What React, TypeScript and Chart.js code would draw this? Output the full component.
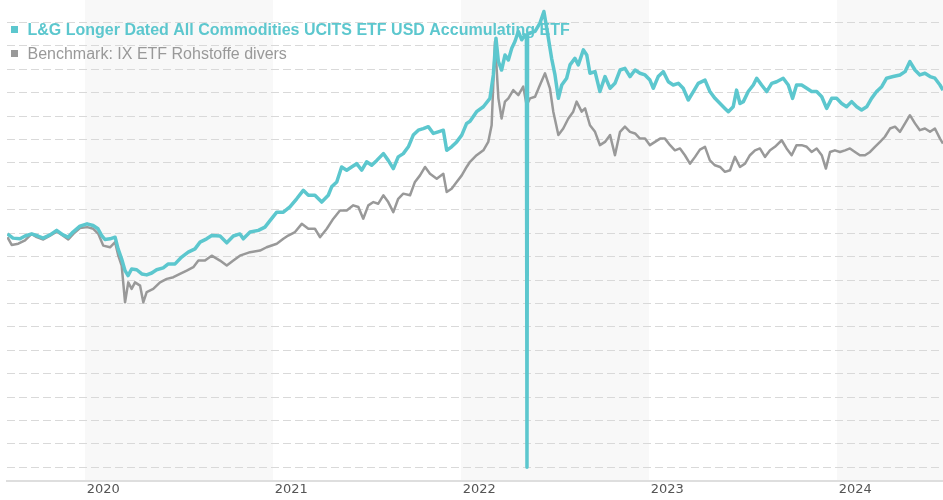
import React, { useEffect, useRef } from 'react';
import { Chart, registerables } from 'chart.js';

Chart.register(...registerables);

// ETF series (x in decimal years, y indexed value)
const etfYears = [
  2019.587, 2019.617, 2019.654, 2019.681, 2019.716, 2019.750, 2019.777, 2019.814, 2019.849, 2019.883,
  2019.910, 2019.936, 2019.973, 2020.011, 2020.043, 2020.069, 2020.089, 2020.106, 2020.133, 2020.160,
  2020.176, 2020.195, 2020.213, 2020.229, 2020.248, 2020.275, 2020.302, 2020.328, 2020.355, 2020.381,
  2020.416, 2020.443, 2020.479, 2020.514, 2020.549, 2020.585, 2020.612, 2020.647, 2020.674, 2020.718,
  2020.754, 2020.789, 2020.824, 2020.842, 2020.878, 2020.922, 2020.957, 2020.984, 2021.020, 2021.055,
  2021.090, 2021.126, 2021.161, 2021.188, 2021.223, 2021.259, 2021.294, 2021.312, 2021.339, 2021.365,
  2021.392, 2021.418, 2021.445, 2021.472, 2021.498, 2021.525, 2021.552, 2021.587, 2021.613, 2021.640,
  2021.666, 2021.693, 2021.720, 2021.746, 2021.773, 2021.799, 2021.826, 2021.853, 2021.879, 2021.906,
  2021.924, 2021.950, 2021.977, 2022.004, 2022.030, 2022.048, 2022.083, 2022.119, 2022.154, 2022.172,
  2022.186, 2022.199, 2022.216, 2022.234, 2022.252, 2022.270, 2022.287, 2022.305, 2022.323, 2022.340,
  2022.348, 2022.351, 2022.354, 2022.363, 2022.394, 2022.420, 2022.441, 2022.459, 2022.482, 2022.500,
  2022.518, 2022.536, 2022.562, 2022.580, 2022.606, 2022.624, 2022.651, 2022.669, 2022.686, 2022.713,
  2022.739, 2022.766, 2022.793, 2022.819, 2022.846, 2022.872, 2022.899, 2022.926, 2022.952, 2022.979,
  2023.005, 2023.023, 2023.049, 2023.076, 2023.103, 2023.129, 2023.156, 2023.182, 2023.209, 2023.236,
  2023.262, 2023.298, 2023.324, 2023.351, 2023.378, 2023.404, 2023.422, 2023.448, 2023.466, 2023.484,
  2023.502, 2023.528, 2023.555, 2023.573, 2023.599, 2023.626, 2023.653, 2023.679, 2023.714, 2023.741,
  2023.764, 2023.785, 2023.812, 2023.839, 2023.865, 2023.892, 2023.919, 2023.945, 2023.972, 2023.998,
  2024.025, 2024.051, 2024.078, 2024.105, 2024.131, 2024.158, 2024.184, 2024.211, 2024.238, 2024.264,
  2024.299, 2024.335, 2024.362, 2024.388, 2024.415, 2024.441, 2024.468, 2024.495, 2024.521, 2024.548,
  2024.564,
];
const etfValues = [
  99.7, 97.9, 97.6, 98.8, 99.7, 98.8, 97.9, 99.3, 101.2, 99.3,
  98.3, 100.5, 103.0, 104.0, 103.3, 101.9, 99.0, 97.3, 97.6, 98.3,
  93.3, 89.0, 84.0, 81.9, 84.7, 84.4, 82.6, 82.2, 83.0, 84.4,
  85.2, 86.9, 86.9, 89.8, 91.9, 93.3, 96.2, 97.6, 99.0, 98.8,
  95.9, 98.8, 99.7, 97.6, 100.5, 101.2, 102.6, 105.4, 109.0, 109.0,
  111.2, 114.7, 118.3, 116.2, 116.2, 113.3, 116.2, 119.8, 121.9, 128.3,
  126.9, 128.3, 129.7, 126.9, 130.5, 129.0, 131.1, 134.0, 131.1, 127.6,
  132.6, 134.0, 136.9, 141.9, 144.0, 144.7, 145.5, 142.6, 143.3, 144.0,
  135.4, 136.9, 139.0, 141.9, 146.9, 147.8, 151.9, 154.0, 157.6, 167.6,
  183.3, 173.3, 169.7, 176.1, 174.0, 179.0, 181.9, 186.2, 182.6, 184.7,
  184.0, 0, 185.0, 185.4, 186.2, 189.7, 194.7, 186.2, 174.7, 167.6,
  157.6, 163.3, 166.2, 171.9, 174.7, 171.9, 178.3, 176.1, 168.3, 169.0,
  160.5, 166.9, 161.9, 164.0, 169.7, 170.4, 166.9, 169.7, 168.3, 167.6,
  165.4, 161.9, 166.9, 169.0, 164.7, 163.3, 164.0, 161.9, 156.9, 160.5,
  164.0, 165.4, 160.5, 157.6, 155.4, 153.3, 151.9, 154.0, 161.1, 155.4,
  156.2, 160.5, 163.3, 166.2, 163.3, 160.5, 164.0, 164.7, 166.2, 163.3,
  157.6, 163.3, 163.3, 161.9, 160.5, 160.5, 158.3, 153.3, 157.6, 157.6,
  155.4, 154.0, 156.2, 154.0, 152.6, 154.0, 157.6, 160.5, 162.6, 166.2,
  166.9, 167.6, 169.0, 173.3, 169.7, 167.6, 168.3, 166.9, 166.2, 163.3,
  161.1,
];

// Benchmark series
const benchYears = [
  2019.587, 2019.610, 2019.645, 2019.681, 2019.716, 2019.743, 2019.778, 2019.814, 2019.849, 2019.885,
  2019.911, 2019.938, 2019.973, 2020.012, 2020.044, 2020.071, 2020.097, 2020.133, 2020.160, 2020.177,
  2020.195, 2020.213, 2020.230, 2020.248, 2020.266, 2020.293, 2020.310, 2020.328, 2020.363, 2020.399,
  2020.435, 2020.470, 2020.505, 2020.541, 2020.576, 2020.603, 2020.638, 2020.674, 2020.718, 2020.754,
  2020.789, 2020.824, 2020.878, 2020.931, 2020.966, 2021.020, 2021.055, 2021.081, 2021.117, 2021.153,
  2021.188, 2021.223, 2021.250, 2021.286, 2021.321, 2021.356, 2021.392, 2021.427, 2021.454, 2021.480,
  2021.507, 2021.534, 2021.560, 2021.587, 2021.613, 2021.640, 2021.666, 2021.693, 2021.729, 2021.755,
  2021.782, 2021.809, 2021.835, 2021.871, 2021.906, 2021.924, 2021.950, 2021.977, 2022.004, 2022.030,
  2022.048, 2022.083, 2022.119, 2022.145, 2022.163, 2022.181, 2022.199, 2022.216, 2022.234, 2022.252,
  2022.278, 2022.305, 2022.331, 2022.349, 2022.367, 2022.394, 2022.420, 2022.447, 2022.473, 2022.491,
  2022.518, 2022.544, 2022.571, 2022.597, 2022.615, 2022.642, 2022.660, 2022.686, 2022.713, 2022.739,
  2022.766, 2022.793, 2022.819, 2022.846, 2022.872, 2022.899, 2022.926, 2022.952, 2022.979, 2023.005,
  2023.032, 2023.059, 2023.085, 2023.112, 2023.138, 2023.165, 2023.191, 2023.218, 2023.245, 2023.271,
  2023.298, 2023.324, 2023.351, 2023.378, 2023.404, 2023.431, 2023.457, 2023.484, 2023.511, 2023.537,
  2023.564, 2023.590, 2023.617, 2023.644, 2023.670, 2023.706, 2023.732, 2023.759, 2023.785, 2023.812,
  2023.839, 2023.865, 2023.892, 2023.919, 2023.941, 2023.963, 2023.989, 2024.016, 2024.043, 2024.069,
  2024.096, 2024.122, 2024.149, 2024.176, 2024.202, 2024.229, 2024.255, 2024.282, 2024.309, 2024.335,
  2024.362, 2024.388, 2024.415, 2024.441, 2024.468, 2024.495, 2024.521, 2024.548, 2024.564,
];
const benchValues = [
  98.3, 95.0, 95.5, 96.9, 99.7, 98.3, 97.3, 99.0, 100.7, 98.8,
  97.3, 99.7, 102.2, 102.6, 101.9, 99.7, 94.7, 94.0, 96.2, 90.4,
  86.2, 70.5, 79.0, 76.2, 79.0, 77.6, 70.5, 74.8, 76.2, 79.0,
  80.5, 81.2, 82.6, 84.0, 85.5, 88.3, 88.3, 90.4, 88.3, 86.2,
  88.3, 90.4, 91.9, 92.6, 94.0, 95.5, 97.6, 99.0, 100.5, 104.0,
  101.9, 101.9, 98.3, 101.9, 106.2, 109.7, 109.7, 111.9, 111.2, 106.2,
  111.9, 113.3, 112.6, 116.2, 113.3, 109.0, 114.7, 116.9, 116.2, 121.9,
  124.7, 128.3, 125.4, 123.3, 125.4, 117.6, 119.0, 121.9, 124.7, 128.3,
  130.5, 133.3, 135.4, 139.0, 146.1, 181.9, 157.6, 149.0, 156.2, 157.6,
  161.1, 159.0, 162.6, 154.7, 157.6, 158.3, 163.3, 168.3, 161.9, 151.9,
  141.9, 144.7, 149.0, 151.9, 156.2, 151.9, 153.3, 146.1, 143.3, 137.6,
  139.0, 141.9, 133.3, 143.3, 145.5, 143.3, 142.6, 140.4, 140.4, 137.6,
  139.0, 140.4, 140.4, 137.6, 135.4, 136.2, 133.3, 129.7, 132.6, 135.7,
  136.9, 131.1, 129.0, 128.3, 126.2, 126.9, 132.6, 128.3, 129.7, 133.3,
  135.4, 136.2, 132.6, 135.4, 136.9, 139.7, 136.2, 133.3, 137.6, 137.6,
  136.9, 134.7, 136.2, 133.3, 127.6, 134.7, 135.4, 134.7, 135.4, 136.2,
  134.7, 133.3, 133.3, 134.7, 136.9, 139.0, 141.2, 144.7, 145.5, 143.3,
  146.9, 150.4, 146.9, 144.0, 144.7, 143.3, 144.7, 140.4, 138.3,
];

const tickYears = [2020, 2021, 2022, 2023, 2024];
const shadedYears = [2020, 2022, 2024];
const seriesLabels = [
  'L&G Longer Dated All Commodities UCITS ETF USD Accumulating ETF',
  'Benchmark: IX ETF Rohstoffe divers',
];
const seriesColors = ['#5cc7ce', '#999999'];
const xMin = 2019.585;
const xMax = 2024.564;
const yMin = -6;
const yMax = 199.6;

export default function App() {
  const canvasRef = useRef<HTMLCanvasElement | null>(null);

  useEffect(() => {
    const canvas = canvasRef.current;
    if (!canvas) return;

    const bandPlugin = {
      id: 'yearBands',
      beforeDraw(chart: any) {
        const { ctx, chartArea } = chart;
        const xs = chart.scales.x;
        ctx.save();
        ctx.fillStyle = '#f8f8f8';
        shadedYears.forEach((yr) => {
          const x0 = Math.max(chartArea.left, xs.getPixelForValue(yr));
          const x1 = Math.min(chartArea.right, xs.getPixelForValue(yr + 1));
          if (x1 > x0) ctx.fillRect(x0, chartArea.top, x1 - x0, chartArea.bottom - chartArea.top);
        });
        ctx.restore();
      },
    };

    const legendPlugin = {
      id: 'overlayLegend',
      beforeDatasetsDraw(chart: any) {
        const { ctx } = chart;
        ctx.save();
        ctx.textBaseline = 'alphabetic';
        ctx.textAlign = 'left';
        ctx.fillStyle = seriesColors[0];
        ctx.fillRect(11, 26, 7, 7);
        ctx.font = 'bold 16px "Liberation Sans", Arial, sans-serif';
        ctx.fillText(seriesLabels[0], 27.5, 35);
        ctx.fillStyle = seriesColors[1];
        ctx.fillRect(11, 50, 7, 7);
        ctx.font = '16px "Liberation Sans", Arial, sans-serif';
        ctx.fillText(seriesLabels[1], 27.5, 59);
        ctx.restore();
      },
    };

    const chart = new Chart(canvas, {
      type: 'line',
      data: {
        datasets: [
          {
            label: seriesLabels[0],
            data: etfYears.map((x, i) => ({ x, y: etfValues[i] })),
            borderColor: seriesColors[0],
            borderWidth: 3.5,
            pointRadius: 0,
            tension: 0,
            fill: false,
            borderJoinStyle: 'round',
          },
          {
            label: seriesLabels[1],
            data: benchYears.map((x, i) => ({ x, y: benchValues[i] })),
            borderColor: seriesColors[1],
            borderWidth: 2.5,
            pointRadius: 0,
            tension: 0,
            fill: false,
            borderJoinStyle: 'round',
          },
        ],
      },
      options: {
        animation: false,
        responsive: true,
        maintainAspectRatio: false,
        layout: { padding: { left: 7, right: 0, top: 0, bottom: 2 } },
        plugins: {
          legend: { display: false },
          tooltip: { enabled: false },
        },
        scales: {
          x: {
            type: 'linear',
            min: xMin,
            max: xMax,
            grid: { display: false, drawTicks: false },
            border: { display: true, color: '#dedede', width: 2 },
            afterBuildTicks: (scale: any) => {
              scale.ticks = tickYears.map((v) => ({ value: v + 0.009 }));
            },
            ticks: {
              align: 'start',
              autoSkip: false,
              maxRotation: 0,
              padding: 0.5,
              color: '#555555',
              font: { family: '"DejaVu Sans", Verdana, sans-serif', size: 13 },
              callback: (v: any) => String(Math.floor(Number(v))),
            },
          },
          y: {
            type: 'linear',
            min: yMin,
            max: yMax,
            ticks: { display: false, stepSize: 10, includeBounds: false },
            grid: { color: '#d9d9d9', lineWidth: 1, drawTicks: false },
            border: { display: false, dash: [8, 4] },
          },
        },
      },
      plugins: [bandPlugin, legendPlugin],
    } as any);

    return () => chart.destroy();
  }, []);

  return (
    <div style={{ position: 'fixed', left: 0, top: 0, width: 943, height: 500, background: '#ffffff' }}>
      <canvas ref={canvasRef} />
    </div>
  );
}
